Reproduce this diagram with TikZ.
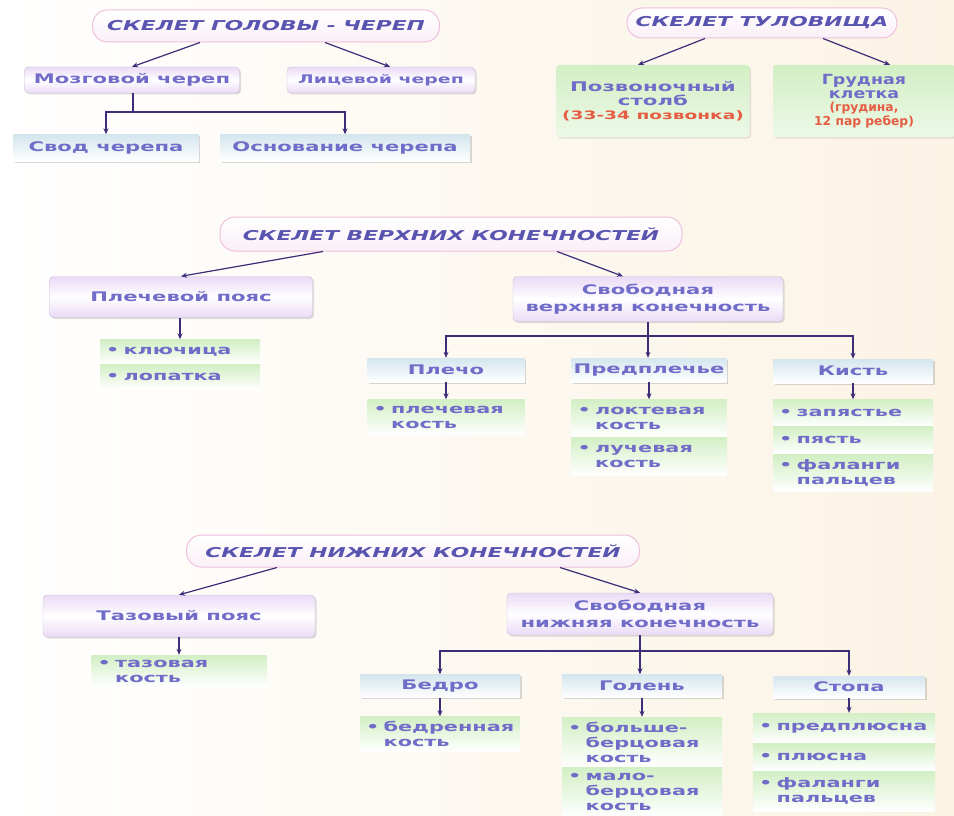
\documentclass[tikz,border=0pt]{standalone}
\usepackage{fontspec}
\newfontfamily\skelfont{DejaVu Sans}[FakeStretch=1.6]
\newfontfamily\chestfont{DejaVu Sans}[FakeStretch=1.25]
\newfontfamily\notefont{DejaVu Sans}
\usetikzlibrary{arrows.meta,shadows}

\definecolor{ink}{RGB}{112,108,200}
\definecolor{headink}{RGB}{88,84,175}
\definecolor{wirecol}{RGB}{60,45,120}
\definecolor{cream}{RGB}{251,243,228}
\definecolor{headpink}{RGB}{238,192,222}
\definecolor{lilac}{RGB}{234,218,246}
\definecolor{mist}{RGB}{212,230,238}
\definecolor{leaf}{RGB}{210,239,196}
\definecolor{note}{RGB}{228,92,66}

\tikzset{
  dims/.style 2 args={minimum width=#1, minimum height=#2},
  head/.style={draw=headpink, line width=1pt, rounded corners=15pt,
    top color=white, bottom color=headpink!25, text=headink, inner sep=0pt,
    font=\skelfont\bfseries\itshape\fontsize{13.6}{16}\selectfont},
  group/.style={draw=lilac!70!gray, rounded corners=4pt,
    top color=lilac, bottom color=lilac, middle color=white,
    drop shadow={opacity=0.25, shadow xshift=1.5pt, shadow yshift=-1.5pt},
    text=ink, align=center, inner sep=0pt,
    font=\skelfont\bfseries\fontsize{13.2}{17}\selectfont},
  part/.style={top color=mist, bottom color=white,
    drop shadow={opacity=0.3, shadow xshift=1.5pt, shadow yshift=-1.5pt},
    text=ink, inner sep=0pt,
    font=\skelfont\bfseries\fontsize{13.2}{15}\selectfont},
  item/.style={top color=leaf, bottom color=white, text=ink, align=left,
    text width=#1, inner xsep=6pt, inner ysep=0pt,
    font=\skelfont\bfseries\fontsize{13}{15}\selectfont},
  trunkbox/.style={rounded corners=3pt, top color=leaf, bottom color=leaf!40,
    drop shadow={opacity=0.2, shadow xshift=1.5pt, shadow yshift=-1.5pt},
    text=ink, align=center, inner sep=0pt,
    font=\skelfont\bfseries\fontsize{13.3}{14}\selectfont},
  link/.style={wirecol, line width=1.2pt},
  arr/.style={link, -{Stealth[length=6pt,width=5pt]}}
}

\begin{document}
\begin{tikzpicture}[x=1pt, y=-1pt]
    \shade [left color=white, right color=cream] (0,0) rectangle (954,816);
    \useasboundingbox (0,0) rectangle (954,816);

    \node [head, dims={347pt}{32pt}] (skull) at (266,26) {СКЕЛЕТ ГОЛОВЫ - ЧЕРЕП};
    \node [group, dims={215pt}{26pt}] (brain) at (132,80) {Мозговой череп};
    \node [group, dims={188pt}{26pt}, font=\skelfont\bfseries\fontsize{11.8}{15}\selectfont] (face) at (381,80) {Лицевой череп};
    \node [part, dims={185pt}{27pt}] (vault) at (106,148) {Свод черепа};
    \node [part, dims={250pt}{27pt}] (base) at (345,148) {Основание черепа};
    \coordinate (skullfork) at (133,112);
    \draw [arr] ([xshift=-66pt]skull.south) -- (brain.north);
    \draw [arr] ([xshift=59pt]skull.south) -- ([xshift=9pt]face.north);
    \draw [link] (brain.south -| skullfork) -- (skullfork);
    \draw [arr] (skullfork) -| (vault.north);
    \draw [arr] (skullfork) -| (base.north);

    \node [head, dims={270pt}{30pt}] (trunk) at (762,23) {СКЕЛЕТ ТУЛОВИЩА};
    \node [trunkbox, dims={193pt}{72pt}] (spine) at (653,101)
      {Позвоночный\\столб\\\textcolor{note}{\fontsize{11.6}{14}\selectfont(33-34 позвонка)}};
    \node [trunkbox, dims={182pt}{72pt}, font=\chestfont\bfseries\fontsize{14}{13.5}\selectfont] (chest) at (864,101)
      {Грудная\\клетка\\\textcolor{note}{\notefont\fontsize{12.3}{13.5}\selectfont(грудина,}\\\textcolor{note}{\notefont\fontsize{12.3}{13.5}\selectfont 12 пар ребер)}};
    \draw [arr] ([xshift=-57pt]trunk.south) -- ([xshift=-15pt]spine.north);
    \draw [arr] ([xshift=61pt]trunk.south) -- ([xshift=26pt]chest.north);

    \node [head, dims={462pt}{34pt}] (arm) at (451,234) {СКЕЛЕТ ВЕРХНИХ КОНЕЧНОСТЕЙ};
    \node [group, dims={263pt}{41pt}] (girdle) at (181,297) {Плечевой пояс};
    \node [item=148pt, minimum height=25pt] (clavicle) at (180,352) {•~ключица};
    \node [item=148pt, minimum height=25pt] (scapula) at (180,377) {•~лопатка};
    \node [group, dims={270pt}{45pt}] (freearm) at (648,299) {Свободная\\верхняя конечность};
    \node [part, dims={157pt}{24pt}] (shoulder) at (446,370) {Плечо};
    \node [part, dims={155pt}{24pt}] (forearm) at (649,370) {Предплечье};
    \node [part, dims={160pt}{24pt}] (hand) at (853,371) {Кисть};
    \node [item=145pt, minimum height=35pt] (humerus) at (446,417) {•~плечевая\\\phantom{•~}кость};
    \node [item=143pt, minimum height=37pt] (ulna) at (649,418) {•~локтевая\\\phantom{•~}кость};
    \node [item=143pt, minimum height=38pt] (radius) at (649,456) {•~лучевая\\\phantom{•~}кость};
    \node [item=148pt, minimum height=27pt] (carpus) at (853,413) {•~запястье};
    \node [item=148pt, minimum height=27pt] (metacarpus) at (853,440) {•~пясть};
    \node [item=148pt, minimum height=37pt] (fingers) at (853,473) {•~фаланги\\\phantom{•~}пальцев};
    \coordinate (armfork) at (648,336);
    \draw [arr] ([xshift=-128pt]arm.south) -- (girdle.north);
    \draw [arr] ([xshift=106pt]arm.south) -- ([xshift=-25pt]freearm.north);
    \draw [arr] (girdle.south -| clavicle) -- (clavicle.north);
    \draw [link] (freearm.south) -- (armfork);
    \draw [arr] (armfork) -| (shoulder.north);
    \draw [arr] (armfork) -- (armfork |- forearm.north);
    \draw [arr] (armfork) -| (hand.north);
    \draw [arr] (shoulder.south) -- (humerus.north);
    \draw [arr] (forearm.south) -- (ulna.north);
    \draw [arr] (hand.south) -- (carpus.north);

    \node [head, dims={453pt}{32pt}] (leg) at (413,551) {СКЕЛЕТ НИЖНИХ КОНЕЧНОСТЕЙ};
    \node [group, dims={272pt}{42pt}] (pelvis) at (179,616) {Тазовый пояс};
    \node [item=163pt, minimum height=32pt] (hipbone) at (179,671) {•~тазовая\\\phantom{•~}кость};
    \node [group, dims={266pt}{42pt}] (freeleg) at (640,614) {Свободная\\нижняя конечность};
    \node [part, dims={160pt}{23pt}] (thigh) at (440,686) {Бедро};
    \node [part, dims={160pt}{23pt}] (shin) at (642,686) {Голень};
    \node [part, dims={152pt}{22pt}] (foot) at (849,687) {Стопа};
    \node [item=148pt, minimum height=35pt] (femur) at (440,734) {•~бедренная\\\phantom{•~}кость};
    \node [item=148pt, minimum height=50pt] (tibia) at (642,742) {•~больше-\\\phantom{•~}берцовая\\\phantom{•~}кость};
    \node [item=148pt, minimum height=50pt] (fibula) at (642,792) {•~мало-\\\phantom{•~}берцовая\\\phantom{•~}кость};
    \node [item=170pt, minimum height=30pt] (tarsus) at (844,728) {•~предплюсна};
    \node [item=170pt, minimum height=27pt] (metatarsus) at (844,757) {•~плюсна};
    \node [item=170pt, minimum height=40pt] (toes) at (844,791) {•~фаланги\\\phantom{•~}пальцев};
    \coordinate (legfork) at (640,651);
    \draw [arr] ([xshift=-136pt]leg.south) -- (pelvis.north);
    \draw [arr] ([xshift=147pt]leg.south) -- (freeleg.north);
    \draw [arr] (pelvis.south -| hipbone) -- (hipbone.north);
    \draw [link] (freeleg.south) -- (legfork);
    \draw [arr] (legfork) -| (thigh.north);
    \draw [arr] (legfork) -- (legfork |- shin.north);
    \draw [arr] (legfork) -| (foot.north);
    \draw [arr] (thigh.south) -- (femur.north);
    \draw [arr] (shin.south) -- (tibia.north);
    \draw [arr] (foot.south) -- (foot.south |- tarsus.north);
  \end{tikzpicture}
\end{document}
